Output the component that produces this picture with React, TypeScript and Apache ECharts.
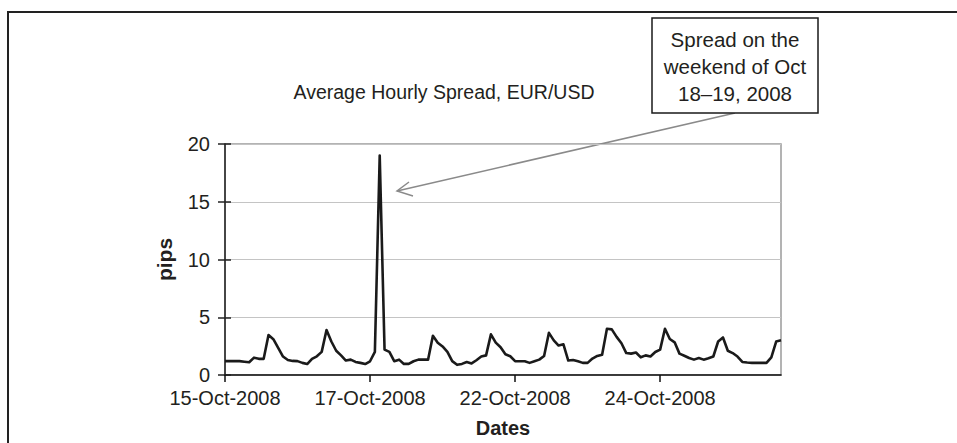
import React, { useEffect, useRef } from "react";
import * as echarts from "echarts";

const tickLabels = ["15-Oct-2008", "17-Oct-2008", "22-Oct-2008", "24-Oct-2008"];
const tickEvery = 30;

// Average hourly spread in pips (sampled along the chart)
const spread = [
  1.2, 1.2, 1.2, 1.2, 1.15, 1.1, 1.5, 1.4, 1.4, 3.46,
  3.1, 2.35, 1.6, 1.3, 1.22, 1.2, 1.05, 0.95, 1.4, 1.62,
  2.0, 3.89, 2.9, 2.1, 1.7, 1.25, 1.33, 1.13, 1.05, 0.95,
  1.19, 2.0, 19.0, 2.2, 2.0, 1.2, 1.33, 0.96, 0.96, 1.19,
  1.33, 1.33, 1.33, 3.4, 2.8, 2.47, 2.0, 1.2, 0.88, 0.96,
  1.13, 1.0, 1.28, 1.6, 1.7, 3.52, 2.8, 2.4, 1.8, 1.62,
  1.2, 1.19, 1.19, 1.05, 1.19, 1.33, 1.65, 3.65, 3.0, 2.55,
  2.66, 1.25, 1.3, 1.19, 1.05, 1.05, 1.42, 1.65, 1.76, 4.0,
  3.95, 3.3, 2.75, 1.9, 1.85, 1.95, 1.53, 1.7, 1.6, 1.99,
  2.2, 4.0, 3.12, 2.83, 1.85, 1.67, 1.47, 1.33, 1.47, 1.33,
  1.45, 1.6, 2.9, 3.25, 2.1, 1.9, 1.6, 1.13, 1.08, 1.05,
  1.05, 1.05, 1.05, 1.53, 2.9, 3.0,
];

const categories = spread.map((_, i) => String(i));

const FONT = "'Liberation Sans', Arial, Helvetica, sans-serif";
const TXT = "#231f20";

export default function App() {
  const ref = useRef<HTMLDivElement>(null);

  useEffect(() => {
    if (!ref.current) return;
    const chart = echarts.init(ref.current, undefined, { renderer: "svg" });
    chart.setOption({
      animation: false,
      backgroundColor: "#ffffff",
      grid: {
        left: 225,
        top: 144,
        width: 556,
        height: 235,
        show: true,
        borderColor: "#9a9a9a",
        borderWidth: 1.5,
        backgroundColor: "transparent",
      },
      xAxis: {
        type: "category",
        data: categories,
        boundaryGap: false,
        name: "Dates",
        nameLocation: "middle",
        nameGap: 43,
        nameTextStyle: { fontFamily: FONT, fontSize: 20, fontWeight: "bold", color: TXT },
        axisLine: { lineStyle: { color: "#111", width: 1.5 } },
        axisTick: { interval: tickEvery - 1, length: 7, lineStyle: { color: "#111", width: 1.5 } },
        axisLabel: {
          interval: tickEvery - 1,
          margin: 13,
          fontFamily: FONT,
          fontSize: 20,
          color: TXT,
          formatter: (_v: string, idx: number) =>
            idx % tickEvery === 0 ? tickLabels[idx / tickEvery] ?? "" : "",
        },
        splitLine: { show: false },
      },
      yAxis: [
        {
          type: "value",
          min: 0,
          max: 20,
          interval: 5,
          name: "pips",
          nameLocation: "middle",
          nameGap: 50,
          nameTextStyle: { fontFamily: FONT, fontSize: 21, fontWeight: "bold", color: TXT },
          axisLine: { show: true, lineStyle: { color: "#222", width: 1.5 } },
          axisTick: { show: true, length: 7, lineStyle: { color: "#222", width: 1.5 } },
          axisLabel: { margin: 15, fontFamily: FONT, fontSize: 20, color: TXT },
          splitLine: { show: true, lineStyle: { color: "#c4c4c4", width: 1.2 } },
        },
        {
          type: "value",
          min: 0,
          max: 20,
          interval: 5,
          position: "left",
          axisLine: { show: false },
          axisTick: { show: true, inside: true, length: 6, lineStyle: { color: "#222", width: 1.5 } },
          axisLabel: { show: false },
          splitLine: { show: false },
        },
      ],
      series: [
        {
          type: "line",
          data: spread,
          yAxisIndex: 0,
          showSymbol: false,
          symbol: "none",
          lineStyle: { color: "#1a1a1a", width: 2.6, join: "round" },
          z: 5,
        },
      ],
      graphic: [
        {
          type: "rect",
          shape: { x: 8, y: 12, width: 965, height: 445 },
          style: { fill: "none", stroke: "#222", lineWidth: 2 },
          silent: true,
        },
        {
          type: "text",
          x: 444,
          y: 92,
          style: {
            text: "Average Hourly Spread, EUR/USD",
            fontFamily: FONT,
            fontSize: 19.5,
            fill: TXT,
            align: "center",
            verticalAlign: "middle",
          },
        },
        {
          type: "line",
          shape: { x1: 735, y1: 113, x2: 397, y2: 191 },
          style: { stroke: "#8a8a8a", lineWidth: 1.5 },
        },
        {
          type: "polyline",
          shape: { points: [[409, 182], [397, 191], [413, 196]] },
          style: { stroke: "#8a8a8a", lineWidth: 1.5, fill: "none" },
        },
        {
          type: "rect",
          shape: { x: 652, y: 18, width: 166, height: 95 },
          style: { fill: "#ffffff", stroke: "#1a1a1a", lineWidth: 1.5 },
        },
        {
          type: "text",
          x: 735,
          y: 66,
          style: {
            text: "Spread on the\nweekend of Oct\n18\u201319, 2008",
            fontFamily: FONT,
            fontSize: 20.5,
            lineHeight: 27,
            fill: TXT,
            align: "center",
            verticalAlign: "middle",
          },
        },
      ],
    });
    return () => chart.dispose();
  }, []);

  return (
    <div
      ref={ref}
      style={{ position: "fixed", left: 0, top: 0, width: 957, height: 443, background: "#fff" }}
    />
  );
}
